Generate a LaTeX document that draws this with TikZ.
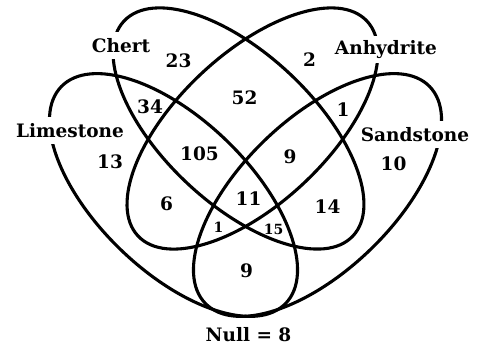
\documentclass[tikz,border=0pt]{standalone}
\usepackage{fontspec}
\setmainfont{DejaVu Serif}
\begin{document}
\begin{tikzpicture}[x=1pt,y=-1pt,
  venn/.style={line width=3.1pt},
  setlabel/.style={font=\fontsize{18.5}{22}\selectfont\bfseries, fill=white, inner sep=1.5pt, minimum height=27pt},
  num/.style={font=\fontsize{18.5}{22}\selectfont\bfseries, inner sep=0pt},
  smallnum/.style={font=\fontsize{14}{17}\selectfont\bfseries, inner sep=0pt}]
\useasboundingbox (0,0) rectangle (480,347);
% ellipses
\coordinate (cL) at (173.5,195);
\coordinate (cS) at (317.5,195);
\coordinate (cC) at (238.5,128.5);
\coordinate (cA) at (252.5,128.5);
\draw[venn, rotate around={-44:(cL)}] (cL) ellipse [x radius=156pt, y radius=76pt];
\draw[venn, rotate around={44:(cS)}] (cS) ellipse [x radius=156pt, y radius=76pt];
\draw[venn, rotate around={-43.2:(cC)}] (cC) ellipse [x radius=157pt, y radius=75pt];
\draw[venn, rotate around={43.2:(cA)}] (cA) ellipse [x radius=157pt, y radius=75pt];
% set labels
\node[setlabel] (chert) at (121,46) {Chert};
\node[setlabel] (anh) at (386,50) {Anhydrite};
\node[setlabel] (lime) at (70,131) {Limestone};
\node[setlabel] (sand) at (415,135) {Sandstone};
% counts
\node[num] (n23) at (178.5,61) {23};
\node[num] (n52) at (244.5,97.5) {52};
\node[num] (n2) at (309.5,59.5) {2};
\node[num] (n34) at (150,107) {34};
\node[num] (n1a) at (343,109.5) {1};
\node[num] (n105) at (199.5,154) {105};
\node[num] (n9a) at (290,156.5) {9};
\node[num] (n13) at (110,161.5) {13};
\node[num] (n10) at (393.5,163.5) {10};
\node[num] (n6) at (166.5,203.5) {6};
\node[num] (n11) at (248.5,198.5) {11};
\node[num] (n14) at (327.5,207) {14};
\node[smallnum] (n1b) at (218.5,227) {1};
\node[smallnum] (n15) at (273.5,229) {15};
\node[num] (n9b) at (246.5,270.5) {9};
\node[num] (null) at (248.5,334.5) {Null = 8};
\end{tikzpicture}
\end{document}
